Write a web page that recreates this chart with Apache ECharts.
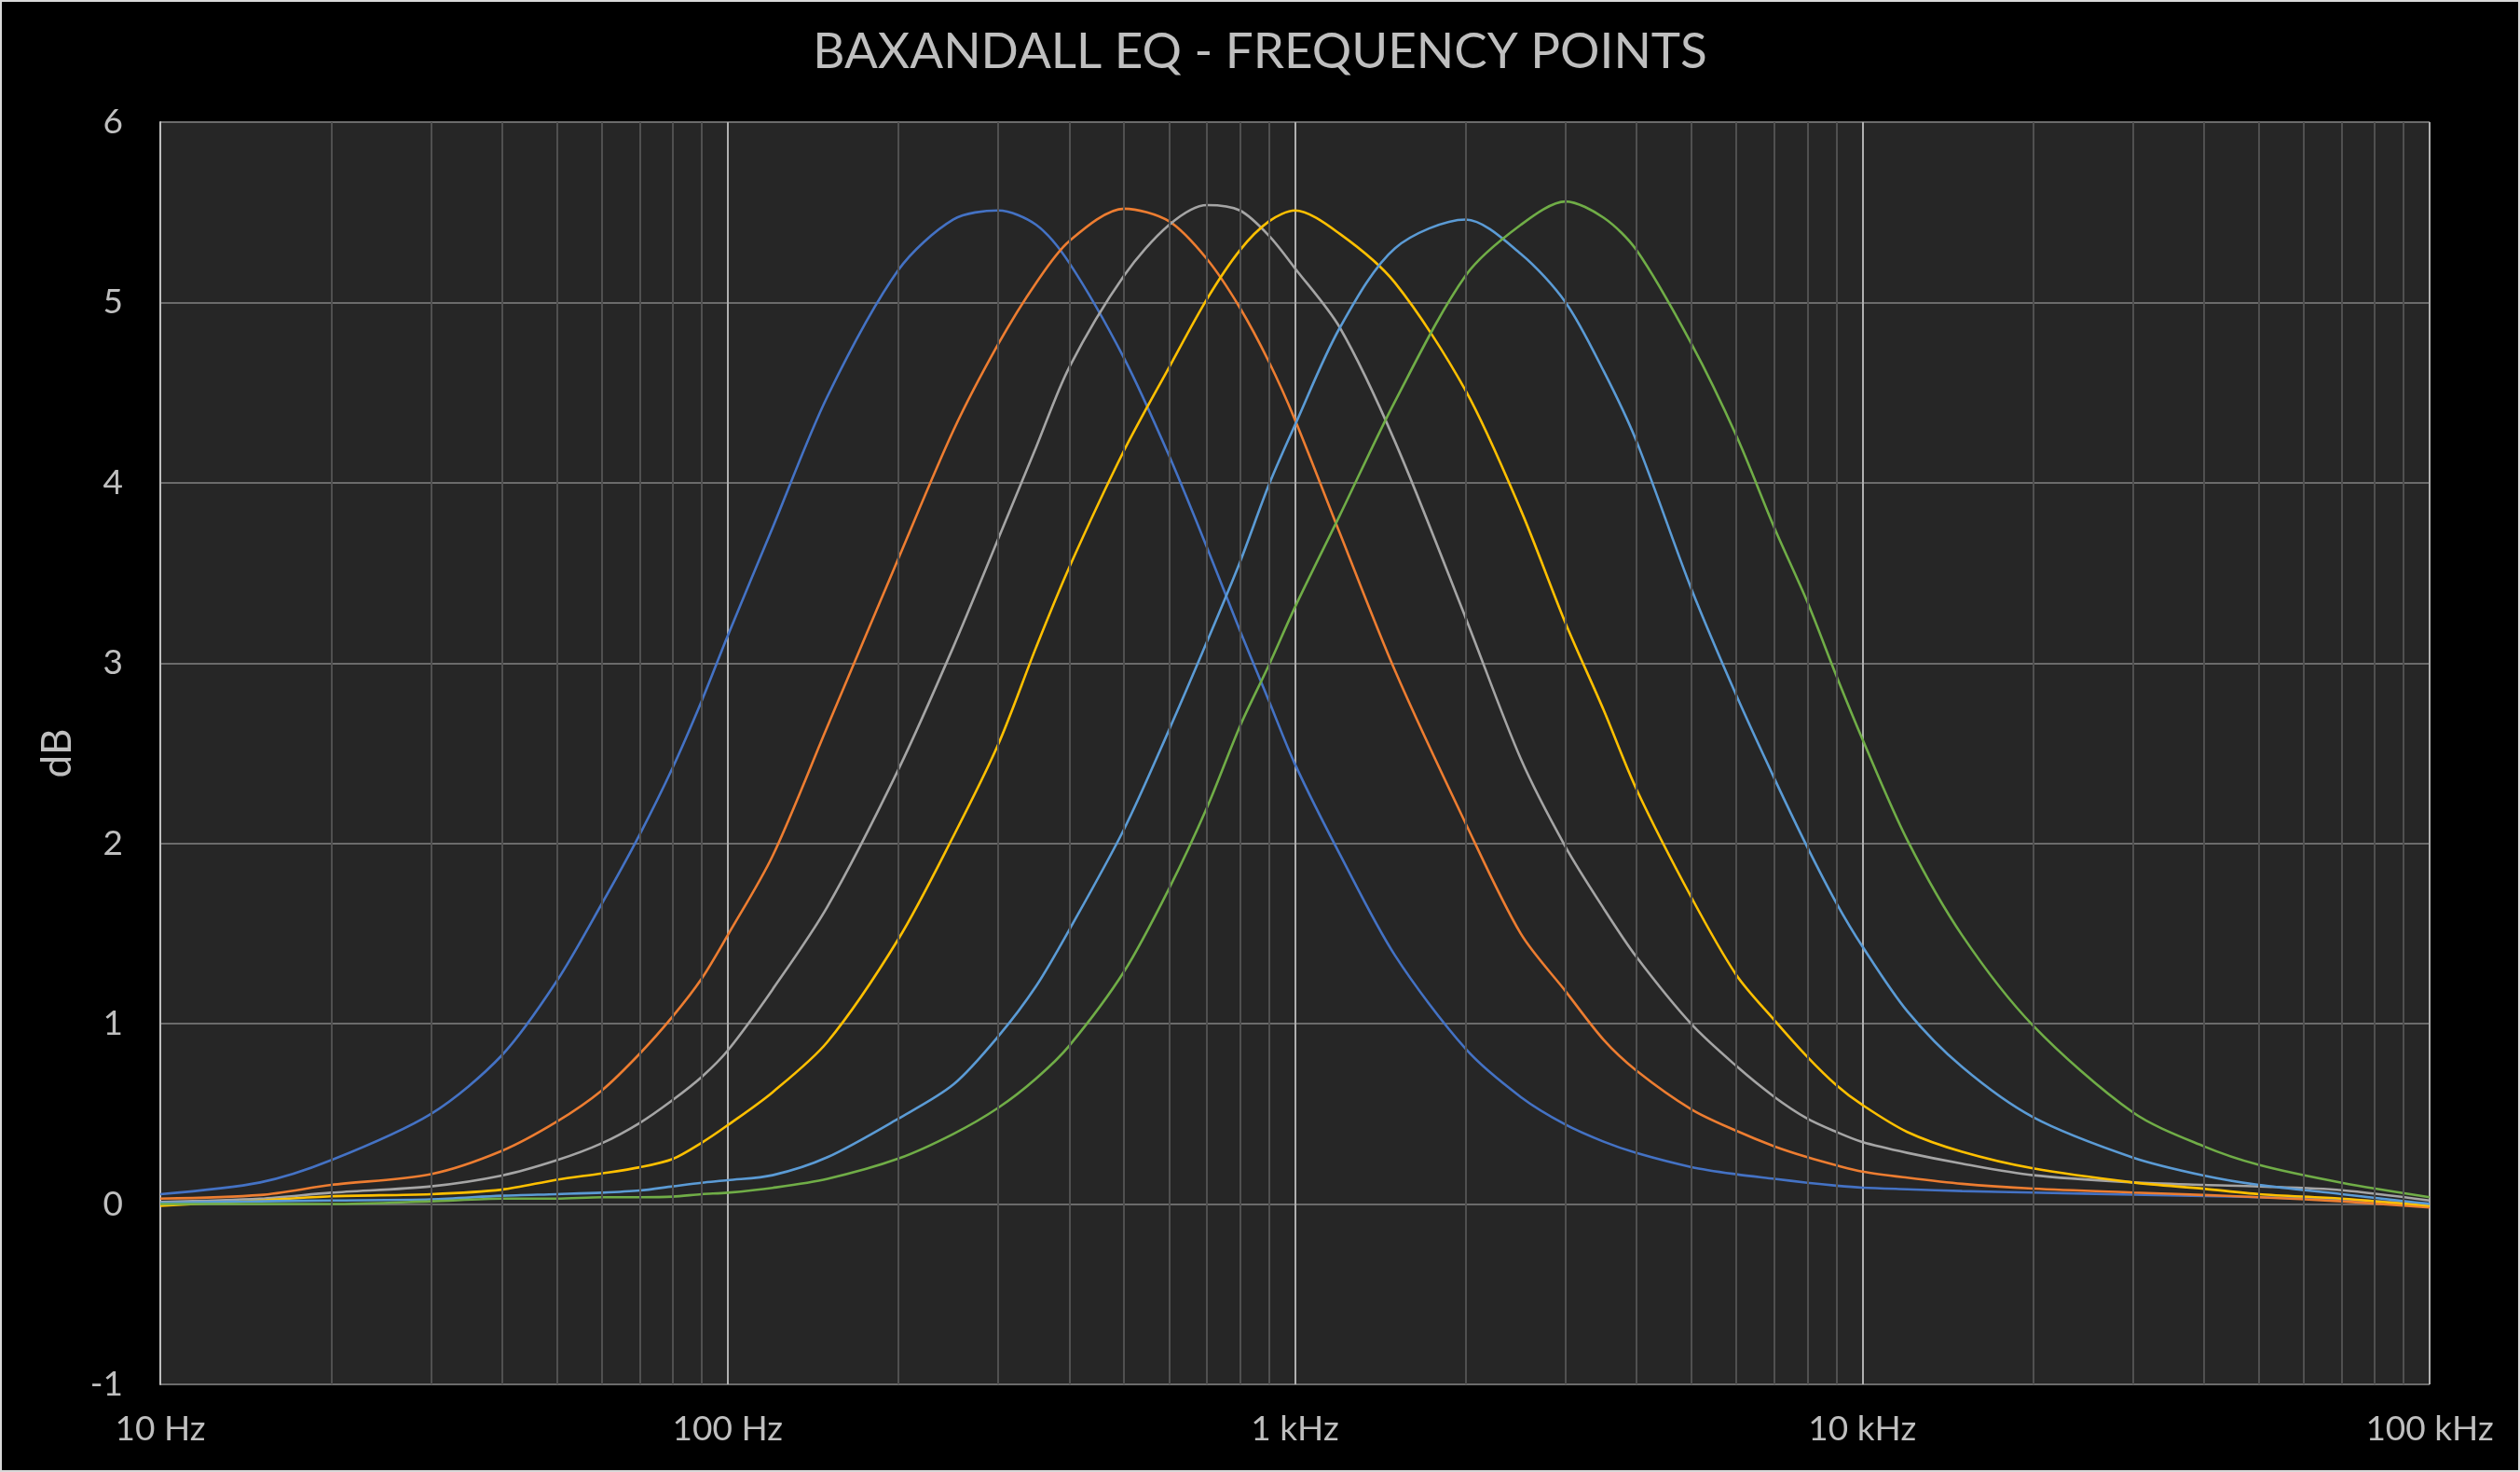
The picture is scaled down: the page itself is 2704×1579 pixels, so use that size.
<!DOCTYPE html>
<html>
<head>
<meta charset="utf-8">
<script src="https://cdn.jsdelivr.net/npm/echarts/dist/echarts.min.js"></script>
<style>
html,body{margin:0;padding:0;background:#000;overflow:hidden;}
#c{position:absolute;left:0;top:0;width:2704px;height:1579px;}
#frame{position:absolute;left:0;top:0;width:2704px;height:1579px;box-sizing:border-box;border:2px solid #d9d9d9;pointer-events:none;}
</style>
</head>
<body>
<div id="c"></div>
<div id="frame"></div>
<script>
// ---- data ----
const freqs = [10,15,20,30,40,50,60,70,80,90,100,120,150,200,250,300,350,400,500,600,700,800,900,1000,1200,1500,2000,2500,3000,3500,4000,5000,6000,7000,8000,9000,10000,12000,15000,20000,30000,40000,50000,70000,100000];

const s1 = [0.055,0.12,0.243,0.50,0.825,1.237,1.665,2.05,2.42,2.79,3.15,3.75,4.48,5.18,5.46,5.51,5.43,5.22,4.69,4.15,3.64,3.18,2.79,2.44,1.94,1.38,0.86,0.594,0.44,0.346,0.283,0.205,0.165,0.14,0.118,0.102,0.091,0.082,0.072,0.064,0.052,0.045,0.038,0.025,0.003];
const s2 = [0.03,0.05,0.106,0.166,0.295,0.457,0.63,0.834,1.04,1.25,1.49,1.93,2.65,3.58,4.29,4.77,5.11,5.34,5.52,5.45,5.24,4.97,4.67,4.35,3.72,2.96,2.11,1.5,1.18,0.911,0.74,0.525,0.406,0.32,0.26,0.215,0.18,0.146,0.112,0.086,0.064,0.05,0.038,0.015,-0.019];
const s3 = [0.012,0.03,0.063,0.098,0.158,0.243,0.337,0.45,0.577,0.705,0.851,1.19,1.65,2.41,3.09,3.69,4.2,4.64,5.15,5.43,5.54,5.51,5.37,5.19,4.86,4.23,3.25,2.47,1.98,1.64,1.37,0.997,0.765,0.594,0.474,0.40,0.344,0.284,0.224,0.16,0.12,0.106,0.098,0.077,0.02];
const s4 = [-0.01,0.02,0.043,0.055,0.08,0.135,0.17,0.204,0.25,0.34,0.437,0.62,0.9,1.47,2.04,2.55,3.09,3.53,4.18,4.64,5.02,5.29,5.45,5.51,5.38,5.11,4.51,3.85,3.22,2.74,2.30,1.70,1.27,1.02,0.817,0.66,0.55,0.40,0.29,0.198,0.12,0.085,0.055,0.03,-0.01];
const s5 = [0.007,0.015,0.02,0.026,0.046,0.055,0.063,0.075,0.098,0.118,0.132,0.16,0.26,0.474,0.663,0.93,1.21,1.52,2.08,2.63,3.12,3.56,3.99,4.32,4.86,5.30,5.46,5.27,5.0,4.62,4.23,3.41,2.82,2.36,1.98,1.67,1.43,1.07,0.76,0.482,0.258,0.158,0.106,0.055,0.0];
const s6 = [0.0,0.0,0.0,0.015,0.03,0.03,0.038,0.038,0.041,0.055,0.063,0.09,0.14,0.252,0.389,0.534,0.697,0.877,1.29,1.75,2.2,2.65,2.99,3.31,3.82,4.45,5.15,5.43,5.56,5.47,5.29,4.77,4.26,3.75,3.34,2.93,2.58,2.02,1.49,0.99,0.508,0.32,0.217,0.118,0.038];

const seriesValues = [s1, s2, s3, s4, s5, s6];
const seriesColors = ['#4472C4', '#ED7D31', '#A5A5A5', '#FFC000', '#5B9BD5', '#70AD47'];
const xTickLabels = ['10 Hz', '100 Hz', '1 kHz', '10 kHz', '100 kHz'];
const minorGridFreqs = [20,30,40,50,60,70,80,90,200,300,400,500,600,700,800,900,2000,3000,4000,5000,6000,7000,8000,9000,20000,30000,40000,50000,60000,70000,80000,90000];
const titleText = 'BAXANDALL EQ - FREQUENCY POINTS';
const yName = 'dB';

// ---- chart ----
const chart = echarts.init(document.getElementById('c'), null, {renderer: 'canvas'});
const font = 'Lato';
const txt = '#bfbfbf';

const lineSeries = seriesValues.map((vals, k) => ({
  type: 'line',
  name: 'S' + (k + 1),
  data: freqs.map((f, i) => [f, vals[i]]),
  showSymbol: false,
  smooth: 0.3,
  lineStyle: {color: seriesColors[k], width: 2.6},
  itemStyle: {color: seriesColors[k]},
  z: 3,
  silent: true,
  animation: false
}));

const gridSeries = {
  type: 'line',
  data: [],
  silent: true,
  z: 1,
  animation: false,
  markLine: {
    silent: true,
    symbol: ['none', 'none'],
    label: {show: false},
    animation: false,
    lineStyle: {color: '#505050', width: 2, type: 'solid'},
    data: minorGridFreqs.map(f => ({xAxis: f}))
  }
};

chart.setOption({
  backgroundColor: '#000000',
  animation: false,
  title: {
    text: titleText,
    left: 'center',
    top: 24,
    textStyle: {fontFamily: font, fontSize: 53, fontWeight: 'normal', color: txt}
  },
  grid: {
    left: 172, right: 97, top: 131, bottom: 94,
    show: true, backgroundColor: '#262626', borderWidth: 0
  },
  xAxis: {
    type: 'log',
    logBase: 10,
    min: 10,
    max: 100000,
    splitNumber: 4,
    axisLine: {show: false, onZero: false},
    axisTick: {show: false},
    axisLabel: {
      color: txt, fontFamily: font, fontSize: 37, margin: 30,
      showMinLabel: true, showMaxLabel: true,
      formatter: v => xTickLabels[Math.round(Math.log10(v)) - 1]
    },
    splitLine: {show: true, lineStyle: {color: '#b0b0b0', width: 2}}
  },
  yAxis: {
    type: 'value',
    min: -1,
    max: 6,
    interval: 1,
    name: yName,
    nameLocation: 'middle',
    nameRotate: 90,
    nameGap: 88,
    nameTextStyle: {color: txt, fontFamily: font, fontSize: 44},
    axisLine: {show: true, onZero: false, lineStyle: {color: '#bfbfbf', width: 2}},
    axisTick: {show: false},
    axisLabel: {color: txt, fontFamily: font, fontSize: 37, margin: 40},
    splitLine: {show: true, lineStyle: {color: '#6b6b6b', width: 2}}
  },
  series: [gridSeries].concat(lineSeries)
});
</script>
</body>
</html>
